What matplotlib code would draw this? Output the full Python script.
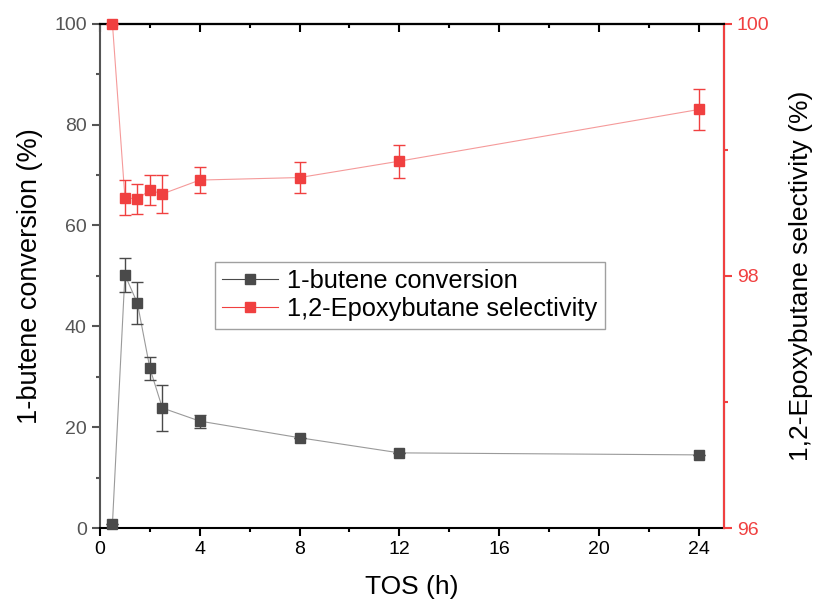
import numpy as np
import matplotlib.pyplot as plt
from matplotlib.lines import Line2D
from matplotlib.ticker import MultipleLocator

plt.rcParams['font.family'] = ['Liberation Sans', 'DejaVu Sans']

# 反应时间 (h)
tos = [0.5, 1, 1.5, 2, 2.5, 4, 8, 12, 24]
# 1-丁烯转化率 (%)
conv = [0.8, 50.2, 44.6, 31.7, 23.8, 21.2, 17.9, 14.9, 14.5]
conv_err = [0, 3.3, 4.2, 2.3, 4.6, 1.3, 0, 0, 0]
# 1,2-环氧丁烷选择性 (%)
sel = [100.0, 98.62, 98.61, 98.68, 98.65, 98.76, 98.78, 98.91, 99.32]
sel_err = [0, 0.14, 0.12, 0.12, 0.15, 0.10, 0.12, 0.13, 0.16]

c_gray = '#4a4a4a'
c_red = '#f04040'
c_axis = '#555555'

fig = plt.figure(figsize=(8.16, 6.09), dpi=100)
ax = fig.add_axes([0.1225, 0.133, 0.7645, 0.828])
ax2 = ax.twinx()

# 细连线 + 误差棒 + 方块点
for a, y, e, c, lc in ((ax, conv, conv_err, c_gray, '#9a9a9a'),
                       (ax2, sel, sel_err, c_red, '#f59a9a')):
    a.plot(tos, y, '-', color=lc, lw=0.8, zorder=2, clip_on=False)
    a.errorbar(tos, y, yerr=e, fmt='none', ecolor=c, elinewidth=1.0,
               capsize=4.5, capthick=1.0, zorder=3, clip_on=False)
    a.plot(tos, y, 's', color=c, ms=7.5, mec=c, zorder=4, clip_on=False)

# 坐标轴范围与刻度
ax.set_xlim(0, 25)
ax.set_ylim(0, 100)
ax2.set_ylim(96, 100)
ax.xaxis.set_major_locator(MultipleLocator(4))
ax.xaxis.set_minor_locator(MultipleLocator(2))
ax.yaxis.set_major_locator(MultipleLocator(20))
ax.yaxis.set_minor_locator(MultipleLocator(10))
ax2.yaxis.set_major_locator(MultipleLocator(2))
ax2.yaxis.set_minor_locator(MultipleLocator(1))

ax.tick_params(axis='x', which='both', direction='out', top=False, labelsize=14,
               width=1.5, color='black')
ax.tick_params(axis='x', which='major', length=6)
ax.tick_params(axis='x', which='minor', length=3)
ax.tick_params(axis='y', which='both', direction='out', labelsize=14,
               width=1.5, color=c_axis, labelcolor=c_axis)
ax.tick_params(axis='y', which='major', length=6)
ax.tick_params(axis='y', which='minor', length=3)
ax2.tick_params(axis='y', which='both', direction='out', labelsize=14,
                width=1.5, color=c_red, labelcolor=c_red)
ax2.tick_params(axis='y', which='major', length=6)
ax2.tick_params(axis='y', which='minor', length=3)

# 顶部刻度朝内
sec = ax.secondary_xaxis('top')
sec.xaxis.set_major_locator(MultipleLocator(4))
sec.xaxis.set_minor_locator(MultipleLocator(2))
sec.tick_params(which='both', direction='in', labeltop=False, width=1.5)
sec.tick_params(which='major', length=6)
sec.tick_params(which='minor', length=3)
sec.spines['top'].set_linewidth(1.5)

ax.spines['left'].set_color(c_axis)
ax2.spines['right'].set_color(c_red)
for a in (ax, ax2):
    for s in a.spines.values():
        s.set_linewidth(1.5)
ax2.spines['left'].set_visible(False)
ax2.spines['bottom'].set_visible(False)

ax.set_xlabel('TOS (h)', fontsize=19, labelpad=12)
ax.set_ylabel('1-butene conversion (%)', fontsize=19.5, labelpad=8)
ax2.set_ylabel('1,2-Epoxybutane selectivity (%)', fontsize=19, labelpad=14)

handles = [Line2D([], [], color=c_gray, lw=0.8, marker='s', ms=7.5),
           Line2D([], [], color=c_red, lw=0.8, marker='s', ms=7.5)]
labels = ['1-butene conversion', '1,2-Epoxybutane selectivity']
leg = ax2.legend(handles, labels, loc='upper left', bbox_to_anchor=(0.184, 0.528),
                 borderaxespad=0, fontsize=18.3, frameon=True, fancybox=False,
                 handlelength=2.2, handletextpad=0.35, borderpad=0.3, labelspacing=0.15,
                 edgecolor='#888888')
leg.get_frame().set_linewidth(1.0)

plt.savefig('out.png', dpi=100)
